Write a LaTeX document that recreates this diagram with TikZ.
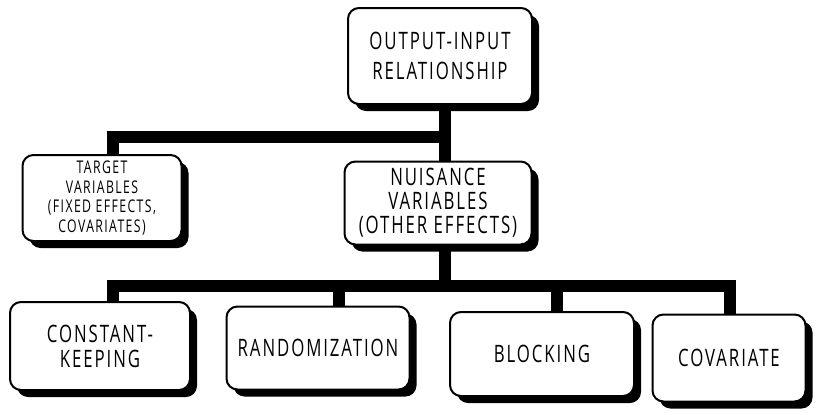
\documentclass[tikz,border=0pt]{standalone}
\usepackage{fontspec}
\setmainfont{Open Sans}[FakeStretch=0.7, LetterSpace=8]
\usetikzlibrary{shadows,backgrounds}
\begin{document}
\begin{tikzpicture}[x=1pt,y=-1pt,
  box/.style={draw, line width=2pt, rounded corners=11pt, fill=white,
    general shadow={fill=black, shadow xshift=7pt, shadow yshift=-7pt},
    inner sep=0pt, align=center, font=\fontsize{24}{24}\selectfont},
  conn/.style={line width=12pt}]
\useasboundingbox (0,0) rectangle (817,413);
% nodes
\node[box, minimum width=184pt, minimum height=96pt, font=\fontsize{24}{30}\selectfont] (top) at (440,56) {OUTPUT-INPUT\\RELATIONSHIP};
\node[box, minimum width=159pt, minimum height=86pt, font=\fontsize{17.5}{19.5}\selectfont] (target) at (102,198) {TARGET\\VARIABLES\\(FIXED EFFECTS,\\COVARIATES)};
\node[box, minimum width=187pt, minimum height=83pt] (nuis) at (438,203) {NUISANCE\\VARIABLES\\(OTHER EFFECTS)};
\node[box, minimum width=180pt, minimum height=88pt, font=\fontsize{24}{25}\selectfont] (ck) at (100,346) {CONSTANT-\\KEEPING};
\node[box, minimum width=183pt, minimum height=83pt] (rand) at (318,348) {RANDOMIZATION};
\node[box, minimum width=184pt, minimum height=84pt] (block) at (542,354) {BLOCKING};
\node[box, minimum width=153pt, minimum height=87pt] (cov) at (729,358) {COVARIATE};
% connectors
\begin{pgfonlayer}{background}
\path ([xshift=5pt]top.south) ++(0,32) coordinate (j1);
\draw[conn] ([xshift=5pt]top.south) -- (j1) -| ([xshift=11pt]target.north);
\draw[conn] (j1) -| ([xshift=7pt]nuis.north);
\path ([xshift=7pt]nuis.south) ++(0,40) coordinate (j2);
\draw[conn] ([xshift=7pt]nuis.south) -- (j2) -| ([xshift=13pt]ck.north);
\draw[conn] (j2) -| ([xshift=21pt]rand.north);
\draw[conn] (j2) -| ([xshift=15pt]block.north);
\draw[conn] (j2) -| ([xshift=1pt]cov.north);
\end{pgfonlayer}
\end{tikzpicture}
\end{document}
